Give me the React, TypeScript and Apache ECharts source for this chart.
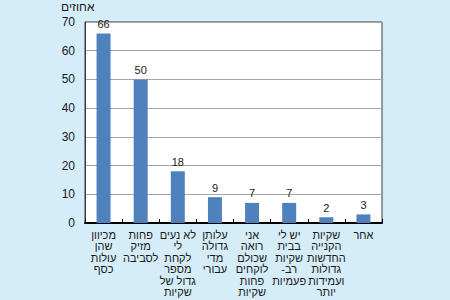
import React, { useEffect, useRef } from "react";
import * as echarts from "echarts";

const RLM = "\u200F";
const categories = [
  "מכיוון\nשהן\nעולות\nכסף",
  "פחות\nמזיק\nלסביבה",
  "לא נעים\nלי\nלקחת\nמספר\nגדול של\nשקיות",
  "עלותן\nגדולה\nמדי\nעבורי",
  "אני\nרואה\nשכולם\nלוקחים\nפחות\nשקיות",
  "יש לי\nבבית\nשקיות\n" + RLM + "רב-" + RLM + "\nפעמיות",
  "שקיות\nהקנייה\nהחדשות\nגדולות\nועמידות\nיותר",
  "אחר",
];
const values = [66, 50, 18, 9, 7, 7, 2, 3];
const yTicks = { min: 0, max: 70, interval: 10 };
const yName = "אחוזים";

const FONT = "'Liberation Sans', 'DejaVu Sans', Arial, sans-serif";

export default function App() {
  const ref = useRef<HTMLDivElement>(null);
  useEffect(() => {
    if (!ref.current) return;
    const chart = echarts.init(ref.current, null, { renderer: "svg" });
    chart.setOption({
      animation: false,
      backgroundColor: "#d5edf9",
      textStyle: { fontFamily: FONT },
      grid: {
        left: 85,
        right: 68,
        top: 22,
        bottom: 77,
        containLabel: false,
        outerBoundsMode: "none",
        show: true,
        backgroundColor: "#ffffff",
        borderColor: "#3a3a3a",
        borderWidth: 1,
      },
      xAxis: {
        type: "category",
        data: categories,
        axisLine: { lineStyle: { color: "#000000", width: 2 } },
        axisTick: { show: true, inside: true, length: 4, lineStyle: { color: "#000000" } },
        axisLabel: {
          interval: 0,
          fontSize: 11,
          lineHeight: 11.5,
          color: "#1a1a1a",
          margin: 6,
          fontFamily: FONT,
          verticalAlign: "top",
        },
      },
      yAxis: {
        type: "value",
        min: yTicks.min,
        max: yTicks.max,
        interval: yTicks.interval,
        name: yName,
        nameLocation: "end",
        nameGap: 9,
        nameTextStyle: { fontSize: 12, color: "#1a1a1a", align: "left", padding: [0, 0, 0, -24], fontFamily: FONT },
        axisLine: { show: true, lineStyle: { color: "#3a3a3a" } },
        axisTick: { show: false },
        axisLabel: { fontSize: 12, color: "#1a1a1a", margin: 10, fontFamily: FONT },
        splitLine: { show: true, lineStyle: { color: "#a6a6a6" } },
      },
      series: [
        {
          type: "bar",
          data: values,
          barWidth: 14,
          itemStyle: { color: "#4f81bd" },
          label: { show: true, position: "top", fontSize: 11, color: "#1a1a1a", distance: 4, fontFamily: FONT },
        },
      ],
    });
    return () => chart.dispose();
  }, []);
  return (
    <div
      ref={ref}
      style={{ position: "fixed", left: 0, top: 0, width: 450, height: 300 }}
    />
  );
}
